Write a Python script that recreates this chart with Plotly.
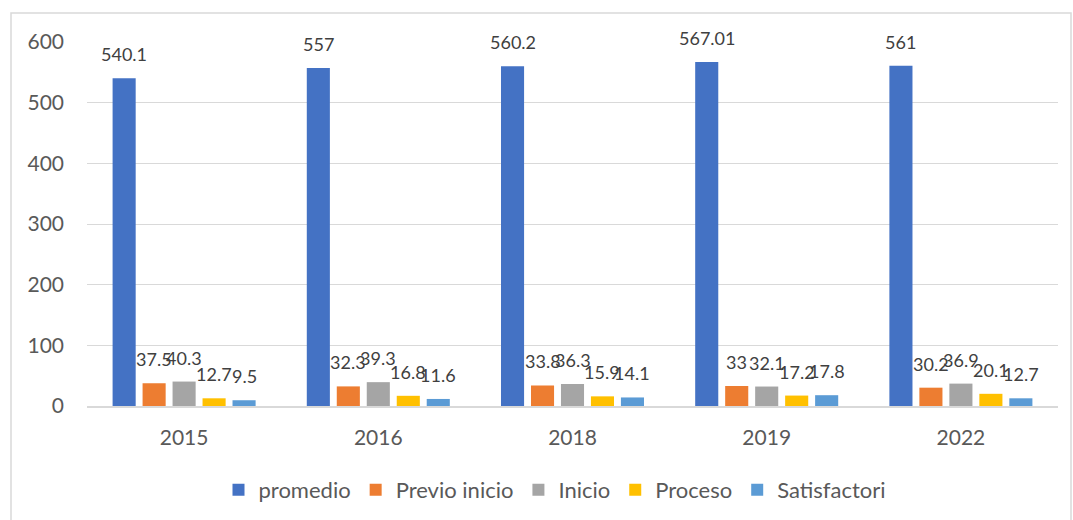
import plotly.graph_objects as go

years = ["2015", "2016", "2018", "2019", "2022"]
series_names = ["promedio", "Previo inicio", "Inicio", "Proceso", "Satisfactori"]
promedio = [540.1, 557, 560.2, 567.01, 561]
previo_inicio = [37.5, 32.3, 33.8, 33, 30.2]
inicio = [40.3, 39.3, 36.3, 32.1, 36.9]
proceso = [12.7, 16.8, 15.9, 17.2, 20.1]
satisfactori = [9.5, 11.6, 14.1, 17.8, 12.7]
colors = ["#4472C4", "#ED7D31", "#A5A5A5", "#FFC000", "#5B9BD5"]
y_ticks = [0, 100, 200, 300, 400, 500, 600]

all_series = [promedio, previo_inicio, inicio, proceso, satisfactori]

W, H = 1073, 520
ML, MR, MT, MB = 87, 15, 42, 114
BARGAP = 0.228
FONT = "Lato, 'Open Sans', sans-serif"

fig = go.Figure()
for name, vals, col in zip(series_names, all_series, colors):
    fig.add_trace(go.Bar(
        x=years, y=vals, name=name,
        marker=dict(color=col, line=dict(width=0)),
    ))

# data labels centred above each bar
n = len(all_series)
slot = (1 - BARGAP) / n
annotations = []
for i, vals in enumerate(all_series):
    for j, v in enumerate(vals):
        annotations.append(dict(
            x=j + (i - (n - 1) / 2) * slot, y=v, xref="x", yref="y",
            text=f"{v:g}",
            showarrow=False, yanchor="middle", yshift=24,
            font=dict(family=FONT, size=18, color="#404040"),
        ))

pw = W - ML - MR
ph = H - MT - MB
def px_x(p):
    return (p - ML) / pw
def px_y(p):
    return (H - MB - p) / ph

fig.update_layout(
    width=W, height=H,
    margin=dict(l=ML, r=MR, t=MT, b=MB, autoexpand=False),
    paper_bgcolor="white", plot_bgcolor="white",
    barmode="group", bargap=BARGAP, bargroupgap=0.23,
    font=dict(family=FONT, color="#595959", size=21),
    showlegend=True,
    legend=dict(orientation="h", x=px_x(555), xanchor="center", y=px_y(490), yanchor="middle",
                font=dict(size=22, color="#595959"), itemwidth=30, traceorder="normal"),
    annotations=annotations,
    shapes=[dict(type="rect", xref="paper", yref="paper",
                 x0=px_x(11), x1=px_x(1071), y0=px_y(530), y1=px_y(13),
                 line=dict(color="#D9D9D9", width=1.5), fillcolor="rgba(0,0,0,0)", layer="below")],
)
fig.update_xaxes(type="category", showgrid=False, showline=True, linecolor="#D9D9D9", linewidth=1.5,
                 ticks="", ticklabelstandoff=12, tickfont=dict(size=21, color="#595959"))
fig.update_yaxes(range=[0, 600], tickvals=y_ticks, showgrid=True, gridcolor="#D9D9D9", gridwidth=1.3,
                 zeroline=False, showline=False, ticks="", ticklabelstandoff=22,
                 tickfont=dict(size=21, color="#595959"))

fig.write_html("out.html", config={"displayModeBar": False},
               post_script="document.body.style.margin='0';document.body.style.overflow='hidden';")
